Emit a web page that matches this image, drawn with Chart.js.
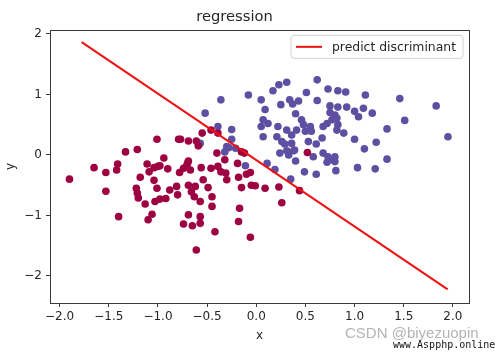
<!DOCTYPE html>
<html>
<head>
<meta charset="utf-8">
<script src="https://cdn.jsdelivr.net/npm/chart.js@4.4.1/dist/chart.umd.min.js"></script>
<style>
    body { margin: 0; background: #fff; }
    #wrap { position: relative; width: 495px; height: 352px; }
    .mark1 { position: absolute; left: 345px; top: 324px; font: 15px "Liberation Sans", sans-serif; color: #b4b4b4; white-space: nowrap; }
    .mark2 { position: absolute; left: 393px; top: 339px; font: 10px "DejaVu Sans Mono", monospace; color: #111; white-space: nowrap; }
</style>
</head>
<body>
<div id="wrap">
    <canvas id="regChart" width="495" height="352"></canvas>
    <div class="mark1">CSDN @biyezuopin</div>
    <div class="mark2">www.Aspphp.online</div>
</div>
<script>
// class 0 (dark red)
const redX = [-1.90, -1.65, -1.53, -1.53, -1.41, -1.42, -1.40, -1.33, -1.21, -1.18,
    -1.22, -1.21, -1.20, -1.13, -1.11, -1.09, -1.10, -1.06, -1.04, -1.00,
    -0.98, -1.04, -1.01, -1.03, -0.98, -1.01, -0.94, -0.92, -0.90, -0.88,
    -0.81, -0.80, -0.79, -0.77, -0.78, -0.74, -0.70, -0.69, -0.69, -0.74,
    -0.69, -0.71, -0.67, -0.66, -0.63, -0.65, -0.61, -0.59, -0.62, -0.57,
    -0.57, -0.57, -0.56, -0.55, -0.54, -0.61, -0.49, -0.46, -0.45, -0.45,
    -0.46, -0.42, -0.40, -0.39, -0.36, -0.32, -0.31, -0.30, -0.19, -0.18,
    -0.15, -0.12, -0.10, -0.06, -0.15, -0.17, -0.18, -0.05, -0.01, -0.06,
    0.09, 0.23, 0.26, 0.44, 0.52, -0.39, -0.69];
const redY = [-0.40, -0.21, -0.29, -0.60, -0.15, -0.25, -1.02, 0.05, 0.09, -0.37,
    -0.55, -0.63, -0.71, -0.81, -0.15, -0.28, -1.07, -0.98, -0.21, -0.19,
    -0.18, -0.42, -0.55, -0.77, -0.73, 0.26, -0.05, -0.72, -0.23, -0.58,
    -0.52, -0.66, 0.26, 0.26, -0.29, -0.22, -0.14, 0.23, -0.50, -1.14,
    -0.99, -0.19, -0.25, -0.61, -0.69, -1.17, 0.23, 0.15, -0.52, -0.77,
    -1.02, -1.13, -0.21, 0.36, -0.41, -1.57, -0.54, -0.22, -0.69, -0.85,
    0.41, -1.27, 0.03, -0.19, -0.28, -0.08, -0.30, -0.41, -0.14, -0.37,
    0.05, 0.03, -0.32, -0.29, -0.54, -0.88, -1.10, -0.50, -0.51, -1.36,
    -0.55, -0.53, -0.79, -0.59, 0.04, 0.36, -0.10];

// class 1 (purple)
const blueX = [-0.52, -0.36, -0.08, -0.39, -0.25, -0.25, -0.30, -0.32, -0.28, -0.21,
    -0.57, 0.05, 0.09, 0.17, 0.23, 0.31, 0.62, 0.51, 0.73, 0.83,
    0.91, 1.11, 1.46, 1.83, 1.95, 1.51, 1.33, 0.25, 0.34, 0.37,
    0.43, 0.62, 0.75, 0.83, 0.92, 0.75, 1.00, 1.09, 1.04, 1.18,
    0.40, 0.07, 0.05, 0.12, 0.07, 0.22, 0.31, 0.36, 0.41, 0.46,
    0.48, 0.55, 0.72, 0.77, 0.80, 0.82, 0.89, 0.82, 0.83, 0.68,
    1.00, 1.10, 1.22, 1.33, 1.03, 1.21, 0.81, 0.61, 0.49, 0.40,
    0.68, 0.73, 0.77, 0.80, 0.72, 0.80, 0.58, 0.61, 0.53, 0.24,
    0.33, 0.31, 0.38, 0.29, 0.36, 0.21, 0.19, 0.35, 0.11, -0.11,
    0.67, 0.56, 0.50, 0.26, 0.39];
const blueY = [0.69, 0.91, 0.99, 0.47, 0.42, 0.26, 0.14, 0.05, 0.12, 0.11,
    0.19, 0.91, 0.75, 1.06, 1.16, 1.20, 1.24, 1.03, 1.09, 1.06,
    1.04, 0.99, 0.93, 0.81, 0.30, 0.57, 0.43, 0.83, 0.91, 0.84,
    0.89, 0.90, 0.81, 0.79, 0.79, 0.70, 0.72, 0.77, 0.63, 0.69,
    0.68, 0.58, 0.47, 0.52, 0.30, 0.47, 0.41, 0.33, 0.41, 0.58,
    0.50, 0.47, 0.52, 0.58, 0.66, 0.41, 0.36, 0.61, 0.50, 0.47,
    0.26, 0.10, 0.21, -0.07, -0.21, -0.23, -0.26, -0.32, -0.28, -0.10,
    0.03, -0.03, -0.08, -0.11, -0.12, -0.03, -0.03, 0.18, 0.22, 0.03,
    0.00, 0.07, 0.07, 0.18, 0.19, 0.30, -0.24, -0.40, -0.14, -0.18,
    0.28, 0.39, 0.39, 0.22, 0.08];

// discriminant line end points
const lineX = [-1.776, 1.947];
const lineY = [1.863, -2.22];

const xTicks = [-2.0, -1.5, -1.0, -0.5, 0.0, 0.5, 1.0, 1.5, 2.0];
const yTicks = [-2, -1, 0, 1, 2];

const toPts = (xs, ys) => xs.map((x, i) => ({ x: x, y: ys[i] }));
const minus = s => s.replace("-", "\u2212");

Chart.defaults.font.family = "'DejaVu Sans', sans-serif";
Chart.defaults.color = "#262626";

// axes frame + legend inside plot, matplotlib style
const framePlugin = {
    id: "frame",
    afterDraw(chart) {
        const ctx = chart.ctx;
        const a = chart.chartArea;
        ctx.save();
        ctx.strokeStyle = "#3a3a3a";
        ctx.lineWidth = 1;
        ctx.strokeRect(Math.round(a.left) + 0.5, Math.round(a.top) + 0.5,
            Math.round(a.right - a.left), Math.round(a.bottom - a.top));

        const ds = chart.data.datasets[0];
        ctx.font = "12.4px 'DejaVu Sans'";
        const tw = ctx.measureText(ds.label).width;
        const w = 5 + 26 + 10 + tw + 7;
        const h = 23;
        const x0 = a.right - 6 - w;
        const y0 = a.top + 5.5;
        ctx.beginPath();
        ctx.roundRect(x0, y0, w, h, 3);
        ctx.fillStyle = "rgba(255,255,255,0.8)";
        ctx.fill();
        ctx.strokeStyle = "#d0d0d0";
        ctx.stroke();
        ctx.beginPath();
        ctx.moveTo(x0 + 5, y0 + h / 2);
        ctx.lineTo(x0 + 31, y0 + h / 2);
        ctx.strokeStyle = ds.borderColor;
        ctx.lineWidth = 2;
        ctx.stroke();
        ctx.fillStyle = "#262626";
        ctx.textBaseline = "middle";
        ctx.fillText(ds.label, x0 + 41, y0 + h / 2 + 0.5);
        ctx.restore();
    }
};

const ctx = document.getElementById("regChart").getContext("2d");
new Chart(ctx, {
    type: "scatter",
    data: {
        datasets: [
            {
                type: "line",
                label: "predict discriminant",
                data: toPts(lineX, lineY),
                borderColor: "#ee1111",
                borderWidth: 2,
                pointRadius: 0,
                fill: false,
                order: 0
            },
            {
                label: "class 0",
                data: toPts(redX, redY),
                backgroundColor: "#9e0142",
                borderWidth: 0,
                pointRadius: 3.8,
                order: 1
            },
            {
                label: "class 1",
                data: toPts(blueX, blueY),
                backgroundColor: "#5e4fa2",
                borderWidth: 0,
                pointRadius: 3.8,
                order: 1
            }
        ]
    },
    options: {
        responsive: false,
        animation: false,
        layout: { padding: { left: 0, right: 26, top: 0, bottom: 0 } },
        plugins: {
            legend: { display: false },
            tooltip: { enabled: false },
            title: {
                display: true,
                text: "regression",
                font: { size: 14.7, weight: "normal" },
                color: "#262626",
                padding: { top: 8, bottom: 4.2 }
            }
        },
        scales: {
            x: {
                type: "linear",
                min: -2.098,
                max: 2.164,
                afterBuildTicks: s => { s.ticks = xTicks.map(v => ({ value: v })); },
                afterFit: s => { s.height = 49; },
                ticks: {
                    font: { size: 12 },
                    padding: 3,
                    maxRotation: 0,
                    callback: v => minus(v.toFixed(1))
                },
                grid: { drawOnChartArea: false, drawTicks: true, tickLength: 4, color: "#3a3a3a" },
                border: { display: false },
                title: { display: true, text: "x", font: { size: 12 }, padding: { top: 0, bottom: 9 } }
            },
            y: {
                type: "linear",
                min: -2.446,
                max: 2.066,
                afterBuildTicks: s => { s.ticks = yTicks.map(v => ({ value: v })); },
                afterFit: s => { s.width = 50; },
                ticks: {
                    font: { size: 12 },
                    padding: 4,
                    callback: v => minus(String(v))
                },
                grid: { drawOnChartArea: false, drawTicks: true, tickLength: 4, color: "#3a3a3a" },
                border: { display: false },
                title: { display: true, text: "y", font: { size: 12 }, padding: { top: 4, bottom: 0 } }
            }
        }
    },
    plugins: [framePlugin]
});
</script>
</body>
</html>
